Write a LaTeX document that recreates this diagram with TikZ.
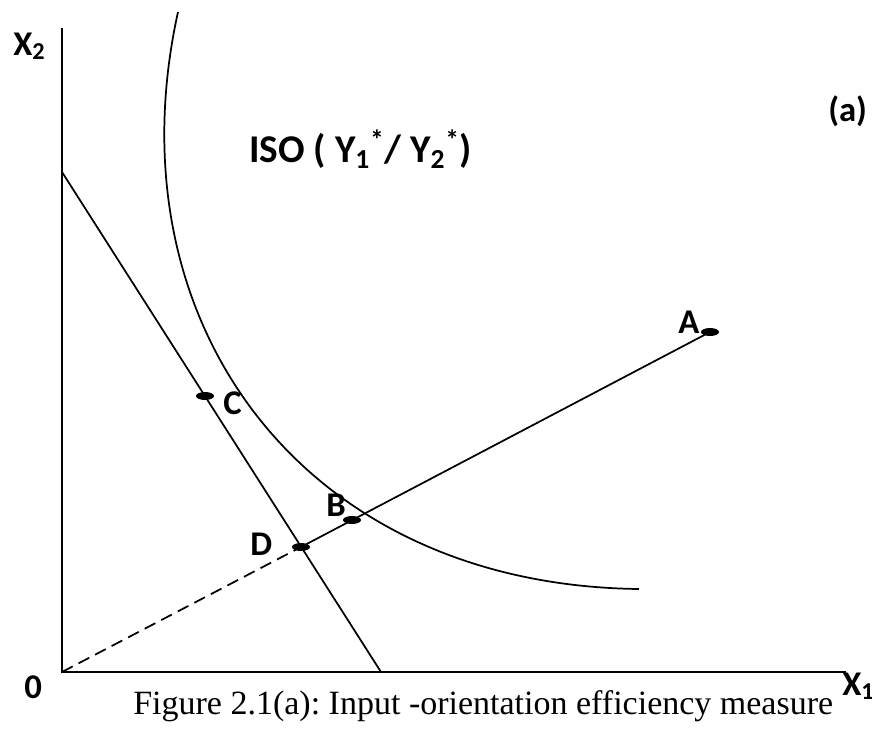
\documentclass[tikz,border=0pt]{standalone}
\usepackage{fontspec}
\setmainfont{Liberation Serif}
\newfontfamily\lblfont{Carlito}
\usetikzlibrary{positioning,shapes.geometric}
\frenchspacing
\tikzset{
  axisln/.style ={line width=1.5pt},
  edge/.style   ={line width=1.3pt},
  raydash/.style={line width=1.3pt, dash pattern=on 9pt off 5pt},
  dot/.style    ={ellipse, fill=black, minimum width=13.5pt, minimum height=6pt, inner sep=0pt},
  plbl/.style   ={font=\lblfont\bfseries\fontsize{26}{30}\selectfont, anchor=base west, inner sep=0pt},
  isolbl/.style ={plbl, font=\lblfont\bfseries\fontsize{29.5}{34}\selectfont},
  figcap/.style ={font=\fontsize{25.5}{30}\selectfont, anchor=base west, inner sep=0pt},
}

\begin{document}
\begin{tikzpicture}[x=0.75pt,y=-0.75pt]
    \useasboundingbox (0,0) rectangle (872,740);
    % axes
    \coordinate (O) at (62,672);
    \coordinate (ytop) at (62,28);
    \coordinate (xend) at (846,672);
    \draw[axisln] (ytop) -- (O) -- (xend);
    % isocost line
    \coordinate (isotop) at (62,172);
    \coordinate (isobot) at (381,672);
    \draw[edge] (isotop) -- (isobot);
    % isoquant
    \coordinate (isqtop) at (178,12);
    \coordinate (isqend) at (639,589);
    \draw[edge] (isqtop) .. controls (110,320) and (300,585) .. (isqend);
    % points
    \node[dot] (A) at (710,332) {};
    \node[dot] (B) at (352,520) {};
    \node[dot] (C) at (205,396) {};
    \node[dot] (D) at (301,547) {};
    % ray through the origin
    \draw[raydash] (O) -- (D.center);
    \draw[edge] (D.center) -- (A.center);
    % labels
    \node[plbl] (lblA) at (678,333) {A};
    \node[plbl] (lblB) at (326,516) {B};
    \node[plbl] (lblC) at (223,414) {C};
    \node[plbl] (lblD) at (250,555) {D};
    \node[plbl] (lblX2) at (13,55) {X\textsubscript{2}};
    \node[plbl] (lblX1) at (842,695) {X\textsubscript{1}};
    \node[plbl] (lblO) at (24,698) {0};
    \node[plbl] (lbla) at (828,121) {(a)};
    \node[isolbl] (lbliso) at (249,162)
        {ISO ( Y\textsubscript{1}\textsuperscript{*}/ Y\textsubscript{2}\textsuperscript{*})};
    \node[figcap] (caption) at (133,714) {Figure 2.1(a): Input -orientation efficiency measure};
\end{tikzpicture}
\end{document}
